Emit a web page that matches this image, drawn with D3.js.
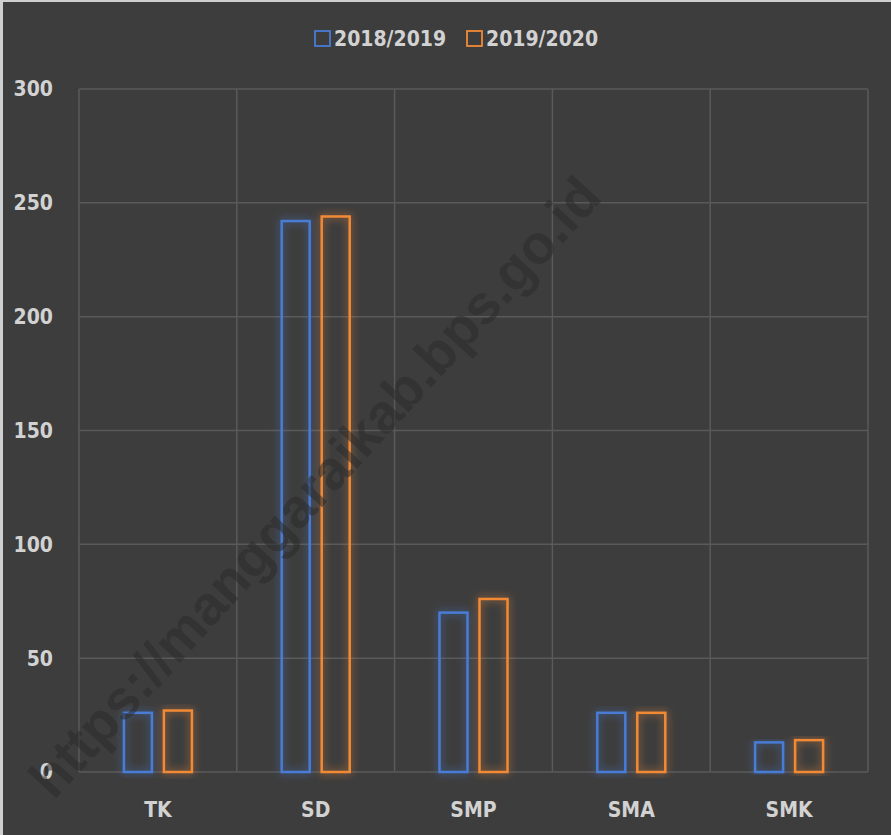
<!DOCTYPE html>
<html>
<head>
<meta charset="utf-8">
<script src="https://cdn.jsdelivr.net/npm/d3@7"></script>
<style>
  html, body { margin: 0; padding: 0; background: #3d3d3d; }
  svg { display: block; }
</style>
</head>
<body>
<svg id="chart"></svg>
<script>
// data
const categories = ["TK", "SD", "SMP", "SMA", "SMK"];
const seriesNames = ["2018/2019", "2019/2020"];
const values2018 = [26, 242, 70, 26, 13];
const values2019 = [27, 244, 76, 26, 14];
const yTicks = [0, 50, 100, 150, 200, 250, 300];

const W = 891, H = 835;
const margin = { top: 89, right: 23, bottom: 63, left: 79 };
const C = ["#4a7bd4", "#f28a36"];
const textCol = "#d2d2d2";
const font = "'Liberation Sans Narrow', 'DejaVu Sans Condensed', sans-serif";

const svg = d3.select("#chart").attr("width", W).attr("height", H);

svg.append("rect").attr("width", W).attr("height", H).attr("fill", "#3d3d3d");
// thin light frame on top/left like the screenshot
svg.append("rect").attr("x", 0).attr("y", 0).attr("width", 3).attr("height", H).attr("fill", "#cfcfcf");
svg.append("rect").attr("x", 0).attr("y", 0).attr("width", W).attr("height", 2).attr("fill", "#cfcfcf");

const defs = svg.append("defs");
const glow = defs.append("filter").attr("id", "glow")
  .attr("x", "-40%").attr("y", "-10%").attr("width", "180%").attr("height", "120%");
glow.append("feGaussianBlur").attr("in", "SourceGraphic").attr("stdDeviation", 4).attr("result", "blur");
glow.append("feComponentTransfer").attr("in", "blur").attr("result", "blur2")
  .append("feFuncA").attr("type", "linear").attr("slope", 0.8);
const merge = glow.append("feMerge");
merge.append("feMergeNode").attr("in", "blur2");
merge.append("feMergeNode").attr("in", "SourceGraphic");

const w = W - margin.left - margin.right;
const h = H - margin.top - margin.bottom;
const g = svg.append("g").attr("transform", `translate(${margin.left},${margin.top})`);

const x = d3.scaleBand().domain(categories).range([0, w]);
const xs = d3.scaleBand().domain(seriesNames).range([x.bandwidth() / 2 - 35, x.bandwidth() / 2 + 35]).paddingInner(0.25);
const y = d3.scaleLinear().domain([0, 300]).range([h, 0]);

// Grid
g.append("g").selectAll("line").data(yTicks).join("line")
  .attr("x1", 0).attr("x2", w)
  .attr("y1", d => y(d)).attr("y2", d => y(d))
  .attr("stroke", "#5a5a5a").attr("stroke-width", 1.5);
g.append("g").selectAll("line").data(categories.concat(["end"])).join("line")
  .attr("x1", (d, i) => i * x.step()).attr("x2", (d, i) => i * x.step())
  .attr("y1", 0).attr("y2", h)
  .attr("stroke", "#5a5a5a").attr("stroke-width", 1.5);

// Watermark
svg.append("text")
  .attr("transform", "translate(318,490) rotate(-47.6)")
  .attr("text-anchor", "middle").attr("dominant-baseline", "middle")
  .style("font-family", "'Liberation Sans', Arial, sans-serif")
  .style("font-weight", "700").style("font-size", "55px")
  .style("fill", "#2c2c2c").style("opacity", 0.55)
  .text("https://manggaraikab.bps.go.id");

// Bars
const series = [values2018, values2019];
series.forEach((vals, si) => {
  g.append("g").selectAll("rect").data(categories).join("rect")
    .attr("x", (d) => x(d) + xs(seriesNames[si]) + 1)
    .attr("y", (d, i) => y(vals[i]))
    .attr("width", xs.bandwidth() - 2)
    .attr("height", (d, i) => h - y(vals[i]))
    .attr("fill", "none")
    .attr("stroke", C[si]).attr("stroke-width", 2.5)
    .attr("filter", "url(#glow)");
});

// Y axis labels
g.append("g").selectAll("text").data(yTicks).join("text")
  .attr("x", -26).attr("y", d => y(d))
  .attr("text-anchor", "end").attr("dy", "0.35em")
  .style("font-family", font).style("font-weight", "700").style("font-size", "21px")
  .style("fill", textCol)
  .text(d => d);

// X axis labels
g.append("g").selectAll("text").data(categories).join("text")
  .attr("x", d => x(d) + x.bandwidth() / 2).attr("y", h + 38)
  .attr("text-anchor", "middle").attr("dy", "0.35em")
  .style("font-family", font).style("font-weight", "700").style("font-size", "21px")
  .style("fill", textCol)
  .text(d => d);

// Legend
const leg = svg.append("g");
const legX = [315, 467];
seriesNames.forEach((s, i) => {
  leg.append("rect").attr("x", legX[i]).attr("y", 31).attr("width", 15).attr("height", 15)
    .attr("fill", "none").attr("stroke", C[i]).attr("stroke-width", 1.8);
  leg.append("text").attr("x", legX[i] + 19).attr("y", 39).attr("dy", "0.35em")
    .style("font-family", font).style("font-weight", "700").style("font-size", "21px")
    .style("fill", textCol)
    .text(s);
});
</script>
</body>
</html>
